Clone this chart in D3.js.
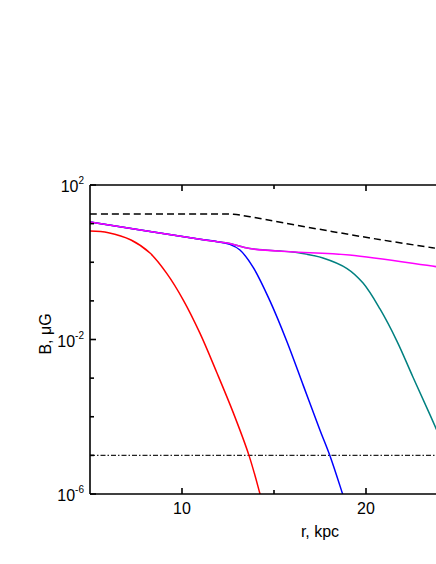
<!DOCTYPE html>
<html>
<head>
    <script src="https://d3js.org/d3.v7.min.js"></script>
</head>
<body style="margin:0; background-color: white;">
<div id="mio_grafico"></div>
<script>
    // data: r in kpc, B in microgauss
    var rRed  = [5, 6, 7.23, 8.26, 9.17, 10.07, 10.98, 11.89, 12.79, 13.64, 14.24, 14.6];
    var bRed  = [6.4, 5.8, 3.76, 1.73, 0.515, 0.105, 0.0144, 1.4e-3, 1.26e-4, 1e-5, 1e-6, 2.2e-7];
    var rBlue = [5, 10.98, 11.8, 12.6, 13.15, 13.86, 14.78, 15.7, 16.6, 17.5, 18.05, 18.75, 19.2];
    var bBlue = [11, 3.92, 3.5, 2.9, 2.07, 0.75, 0.1, 8.9e-3, 6.3e-4, 4.5e-5, 9.5e-6, 9.3e-7, 2e-7];
    var rTeal = [5, 10.98, 12.6, 13.4, 14, 15.9, 16.41, 17.66, 18.97, 19.84, 20.76, 21.68, 22.55, 23.48, 24.5];
    var bTeal = [11, 3.92, 3.05, 2.4, 2.16, 1.87, 1.73, 1.29, 0.687, 0.289, 0.0617, 9.1e-3, 1.07e-3, 1.12e-4, 8.9e-6];
    var rMag  = [5, 10.98, 12.6, 13.4, 14, 15.9, 19.1, 23.8, 25];
    var bMag  = [11, 3.92, 3.05, 2.4, 2.16, 1.87, 1.54, 0.77, 0.65];
    var rDash = [5, 12.2, 12.8, 13.7, 15.5, 18.2, 20.9, 23.6, 25];
    var bDash = [17.7, 17.7, 17.5, 15.1, 10.5, 6.2, 3.76, 2.38, 1.9];
    var rFloor = [5, 25];
    var bFloor = [1e-5, 1e-5];

    var xMajor = [10, 20], xMinor = [15];
    var yTicks = [1e2, 1e1, 1e0, 1e-1, 1e-2, 1e-3, 1e-4, 1e-5, 1e-6];
    var yLabels = [[1e2, "2"], [1e-2, "-2"], [1e-6, "-6"]];

    var W = 436, H = 564;
    var pLeft = 90, pTop = 185, pRight = 458, pBottom = 494;

    var svg = d3.select("#mio_grafico").append("svg")
        .attr("width", W).attr("height", H)
        .style("font-family", "Liberation Sans, Arial, sans-serif");

    var x = d3.scaleLinear().domain([5, 25]).range([pLeft, pRight]);
    var y = d3.scaleLog().domain([1e-6, 1e2]).range([pBottom, pTop]);

    svg.append("clipPath").attr("id", "clip")
       .append("rect").attr("x", pLeft).attr("y", pTop)
       .attr("width", pRight - pLeft).attr("height", pBottom - pTop);

    var plot = svg.append("g").attr("clip-path", "url(#clip)");

    var line = d3.line()
        .x(function(d) { return x(d[0]); })
        .y(function(d) { return y(d[1]); })
        .curve(d3.curveCatmullRom.alpha(0.5));

    function series(rs, bs) { return rs.map(function(r, i) { return [r, bs[i]]; }); }

    var curves = [
        {d: series(rFloor, bFloor), c: "#222", dash: "5,2,1.5,2", w: 1.2},
        {d: series(rDash, bDash), c: "black", dash: "7,4", w: 1.5},
        {d: series(rRed, bRed), c: "#ff0000", dash: null, w: 1.5},
        {d: series(rTeal, bTeal), c: "#008080", dash: null, w: 1.5},
        {d: series(rBlue, bBlue), c: "#0000ff", dash: null, w: 1.5},
        {d: series(rMag, bMag), c: "#ff00ff", dash: null, w: 1.6}
    ];
    curves.forEach(function(s) {
        plot.append("path").datum(s.d)
            .attr("d", line).attr("fill", "none")
            .attr("stroke", s.c).attr("stroke-width", s.w)
            .attr("stroke-dasharray", s.dash);
    });

    // frame
    var axes = svg.append("g").attr("stroke", "black").attr("stroke-width", 1.6);
    axes.append("line").attr("x1", pLeft).attr("x2", pLeft).attr("y1", pTop).attr("y2", pBottom);
    axes.append("line").attr("x1", pLeft).attr("x2", pRight).attr("y1", pTop).attr("y2", pTop);
    axes.append("line").attr("x1", pLeft).attr("x2", pRight).attr("y1", pBottom).attr("y2", pBottom);

    // x ticks (bottom and top, inward)
    xMajor.concat(xMinor).forEach(function(v) {
        var len = xMajor.indexOf(v) >= 0 ? 6 : 4;
        axes.append("line").attr("x1", x(v)).attr("x2", x(v)).attr("y1", pBottom).attr("y2", pBottom - len);
        axes.append("line").attr("x1", x(v)).attr("x2", x(v)).attr("y1", pTop).attr("y2", pTop + len);
    });
    svg.selectAll(".xl").data(xMajor).enter().append("text")
       .attr("x", function(d) { return x(d); }).attr("y", pBottom + 20)
       .attr("text-anchor", "middle").attr("font-size", 16)
       .text(function(d) { return d; });

    // y ticks
    yTicks.forEach(function(v) {
        var major = yLabels.some(function(l) { return l[0] === v; });
        axes.append("line").attr("x1", pLeft).attr("x2", pLeft + (major ? 6 : 4))
            .attr("y1", y(v)).attr("y2", y(v));
    });
    yLabels.forEach(function(l) {
        var t = svg.append("text").attr("x", 84).attr("y", y(l[0]) + 7)
            .attr("text-anchor", "end").attr("font-size", 16);
        t.append("tspan").text("10");
        t.append("tspan").attr("dy", -8).attr("font-size", 10).text(l[1]);
    });

    // axis titles
    svg.append("text").attr("x", 320).attr("y", 537)
       .attr("text-anchor", "middle").attr("font-size", 16).text("r, kpc");
    svg.append("text").attr("transform", "translate(51,334) rotate(-90)")
       .attr("text-anchor", "middle").attr("font-size", 16).text("B, \u03bcG");
</script>
</body>
</html>
